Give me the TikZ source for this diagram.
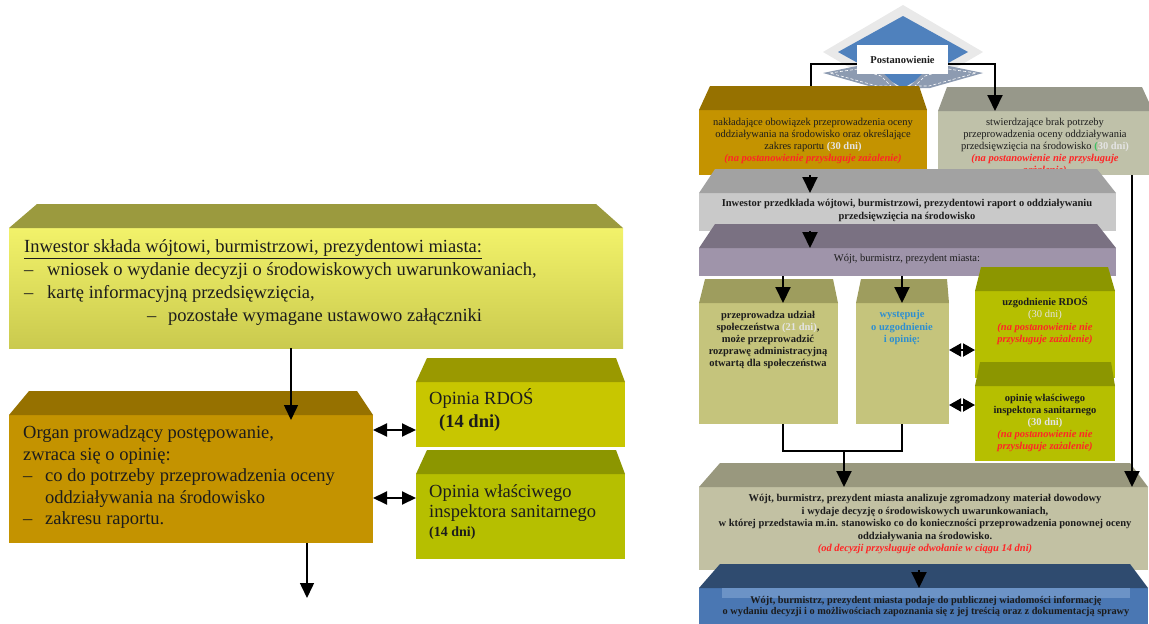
\documentclass[tikz,border=0pt]{standalone}
\usepackage{fontspec}
\setmainfont{Liberation Serif}
\usetikzlibrary{arrows.meta,calc}

\definecolor{ink}{HTML}{1C1C1C}
\definecolor{alert}{HTML}{FF2626}
\definecolor{pale}{HTML}{E4E4E4}
\definecolor{bluetext}{HTML}{2E8FD0}
\definecolor{greentext}{HTML}{3CC060}
\definecolor{rim}{HTML}{E9E9E9}
\definecolor{rhomb}{HTML}{4F81BD}
\definecolor{wing}{HTML}{8D9BB1}
\definecolor{yellow-front}{HTML}{F2F26A}
\definecolor{yellow-low}{HTML}{CACA4E}
\definecolor{yellow-top}{HTML}{9B9A3E}
\definecolor{gold-front}{HTML}{C49300}
\definecolor{gold-top}{HTML}{967100}
\definecolor{lime-front}{HTML}{C8C600}
\definecolor{lime-top}{HTML}{9A9900}
\definecolor{green-front}{HTML}{B6BF00}
\definecolor{green-top}{HTML}{8C9600}
\definecolor{sage-front}{HTML}{BFC1A9}
\definecolor{sage-top}{HTML}{97988A}
\definecolor{grey-front}{HTML}{C9C9C9}
\definecolor{grey-top}{HTML}{A2A2A2}
\definecolor{plum-front}{HTML}{9F94AA}
\definecolor{plum-top}{HTML}{7A7182}
\definecolor{khaki-front}{HTML}{C5C47C}
\definecolor{khaki-top}{HTML}{9E9D5E}
\definecolor{stone-front}{HTML}{C2C1A3}
\definecolor{stone-top}{HTML}{99987E}
\definecolor{navy-front}{HTML}{4A77B3}
\definecolor{navy-band}{HTML}{6C93C6}
\definecolor{navy-top}{HTML}{2F4B6F}

\tikzset{
    front-face/.style = {rectangle, inner sep=0pt, outer sep=0pt, anchor=north west},
    big-text/.style = {font=\fontsize{18.5}{21.5}\selectfont, align=left, inner sep=0pt, anchor=west, text=ink},
    note-text/.style = {font=\fontsize{10.5}{12}\selectfont, align=center, inner sep=0pt, text=ink},
    note-bold/.style = {note-text, font=\fontsize{10.5}{12}\selectfont\bfseries},
    label-box/.style = {fill=white, minimum width=91pt, minimum height=29pt, inner sep=0pt, font=\fontsize{10.5}{12}\selectfont\bfseries, text=ink},
    thin-arrow/.style = {line width=1.5pt, -{Triangle[width=14pt,length=15pt]}},
    thick-arrow/.style = {line width=2pt, -{Triangle[width=15pt,length=16pt]}},
    twin-arrow/.style = {line width=2pt, {Triangle[width=13pt,length=14pt]}-{Triangle[width=13pt,length=14pt]}},
    twin-thick/.style = {line width=2pt, {Triangle[width=13pt,length=12pt]}-{Triangle[width=13pt,length=12pt]}},
    link/.style = {line width=2pt},
}

% name, corner, width, height, front options, top colour, left inset, right inset
\newcommand{\prism}[8]{%
  \node[front-face, #5, minimum width=#3pt, minimum height=#4pt] (#1) at (#2) {};
  \fill[#6] ($(#1.north west)+(#7,-24)$) -- ($(#1.north east)+(-#8,-24)$)
    -- (#1.north east) -- (#1.north west) -- cycle;
  \coordinate (#1-top) at ($(#1.north)+(0,-24)$);}
\newcommand{\uwaga}[1]{{\color{alert}\bfseries\itshape #1}}

\begin{document}
\begin{tikzpicture}[x=1pt,y=-1pt]
\useasboundingbox (0,0) rectangle (1149,624);

% left scheme
\prism{a-inwestor}{9,228}{614}{120}{top color=yellow-front, bottom color=yellow-low}{yellow-top}{28}{27}
\node[big-text, font=\fontsize{18.5}{23}\selectfont] (a-text) at (24,282.5) {%
  \underline{Inwestor składa wójtowi, burmistrzowi, prezydentowi miasta:}\\
  \makebox[23pt][l]{–}wniosek o wydanie decyzji o środowiskowych uwarunkowaniach,\\
  \makebox[23pt][l]{–}kartę informacyjną przedsięwzięcia,\\
  \hspace*{123pt}\makebox[21pt][l]{–}pozostałe wymagane ustawowo załączniki};

\prism{b-organ}{9,415}{364}{128}{fill=gold-front}{gold-top}{20}{16}
\node[big-text] (b-text) at (23,477.5) {%
  Organ prowadzący postępowanie,\\
  zwraca się o opinię:\\
  \makebox[22pt][l]{–}co do potrzeby przeprowadzenia oceny\\
  \hspace*{22pt}oddziaływania na środowisko\\
  \makebox[22pt][l]{–}zakresu raportu.};

\prism{c-rdos}{416,382}{209}{65}{fill=lime-front}{lime-top}{11}{9}
\node[big-text, font=\fontsize{18.5}{23}\selectfont] (c-text) at (429,410.5) {%
  Opinia RDOŚ\\ \hspace*{10pt}\textbf{(14 dni)}};

\prism{d-sanepid}{416,474}{209}{85}{fill=green-front}{green-top}{11}{9}
\node[big-text, font=\fontsize{18.5}{20}\selectfont] (d-text) at (429,503) {%
  Opinia właściwego\\ inspektora sanitarnego};
\node[big-text, font=\fontsize{14}{16}\selectfont\bfseries] (d-days) at (429,533) {(14 dni)};

% right scheme
\fill[rim] (903,5) -- (983,52) -- (903,99) -- (823,52) -- cycle;
\fill[rhomb] (903,16) -- (968,52) -- (903,88) -- (838,52) -- cycle;
\fill[wing] (823,73) -- (857,66) -- (884,74) -- (898,88) -- (876,88) -- cycle;
\fill[wing] (983,73) -- (949,66) -- (922,74) -- (908,88) -- (930,88) -- cycle;
\draw[white, densely dashed, line width=0.6pt] (830,73) -- (858,69) -- (881,76) -- (891,86) -- (877,86) -- cycle;
\draw[white, densely dashed, line width=0.6pt] (976,73) -- (948,69) -- (925,76) -- (915,86) -- (929,86) -- cycle;
\node[label-box] (postanowienie) at (902.5,59.5) {Postanowienie};

\prism{e-nakladajace}{699,110}{228}{65}{fill=gold-front}{gold-top}{11}{8}
\node[note-text] (e-text) at (813,140.5) {%
  nakładające obowiązek przeprowadzenia oceny\\
  oddziaływania na środowisko oraz określające\\
  zakres raportu {\color{pale}\bfseries(30 dni)}\\
  \uwaga{(na postanowienie przysługuje zażalenie)}};

\prism{f-stwierdzajace}{938,111}{215}{64}{fill=sage-front}{sage-top}{9}{11}
\node[note-text] (f-text) at (1045,147) {%
  stwierdzające brak potrzeby\\
  przeprowadzenia oceny oddziaływania\\
  przedsięwzięcia na środowisko {\color{greentext}\bfseries(}{\color{pale}\bfseries30 dni)}\\
  \uwaga{(na postanowienie nie przysługuje}\\
  \uwaga{zażalenie)}};

\prism{g-raport}{699,193}{417}{38}{fill=grey-front}{grey-top}{16}{19}
\node[note-bold, font=\fontsize{10.5}{13}\selectfont\bfseries] (g-text) at (907,210.5) {%
  Inwestor przedkłada wójtowi, burmistrzowi, prezydentowi raport o oddziaływaniu\\
  przedsięwzięcia na środowisko};

\prism{h-wojt}{699,248}{417}{28}{fill=plum-front}{plum-top}{16}{19}
\node[note-text] (h-text) at (907,259) {Wójt, burmistrz, prezydent miasta:};

\prism{i-udzial}{699,303}{139}{121}{fill=khaki-front}{khaki-top}{6}{5}
\node[note-bold] (i-text) at (768,340) {%
  przeprowadza udział\\
  społeczeństwa {\color{pale}(21 dni)},\\
  może przeprowadzić\\
  rozprawę administracyjną\\
  otwartą dla społeczeństwa};

\prism{j-wystepuje}{856,303}{93}{121}{fill=khaki-front}{khaki-top}{5}{2}
\node[note-bold, text=bluetext, font=\fontsize{10.5}{12.5}\selectfont\bfseries] (j-text) at (902,327.5) {%
  występuje\\ o uzgodnienie\\ i opinię:};

\prism{k-uzgodnienie}{975,291}{140}{87}{fill=green-front}{green-top}{6}{7}
\node[note-bold, font=\fontsize{10.5}{12.3}\selectfont\bfseries] (k-text) at (1045,320.5) {%
  uzgodnienie RDOŚ\\
  {\mdseries\color{pale}(30 dni)}\\
  \uwaga{(na postanowienie nie}\\
  \uwaga{przysługuje zażalenie)}};

\prism{l-opinia}{975,386}{140}{75}{fill=green-front}{green-top}{5}{4}
\node[note-bold] (l-text) at (1045,423) {%
  opinię właściwego\\
  inspektora sanitarnego\\
  {\color{pale}(30 dni)}\\
  \uwaga{(na postanowienie nie}\\
  \uwaga{przysługuje zażalenie)}};

\prism{m-decyzja}{699,487}{449}{83}{fill=stone-front}{stone-top}{21}{18}
\node[note-bold, font=\fontsize{10.5}{12.5}\selectfont\bfseries] (m-text) at (925,524) {%
  Wójt, burmistrz, prezydent miasta analizuje zgromadzony materiał dowodowy\\
  i wydaje decyzję o środowiskowych uwarunkowaniach,\\
  w której przedstawia m.in. stanowisko co do konieczności przeprowadzenia ponownej oceny\\
  oddziaływania na środowisko.\\
  \uwaga{(od decyzji przysługuje odwołanie w ciągu 14 dni)}};

\prism{n-informacja}{699,588}{449}{40}{fill=navy-front}{navy-top}{21}{18}
\fill[navy-band] ($(n-informacja.north west)+(23,0)$) rectangle ($(n-informacja.north east)+(-18,10)$);
\node[note-bold, font=\fontsize{10.3}{11.5}\selectfont\bfseries] (n-text) at (926,606.5) {%
  Wójt, burmistrz, prezydent miasta podaje do publicznej wiadomości informację\\
  o wydaniu decyzji i o możliwościach zapoznania się z jej treścią oraz z dokumentacją sprawy};

% connectors, left
\coordinate (col-a) at (291,0);
\coordinate (col-b) at (307,0);
\coordinate (b-exit) at (307,598);
\coordinate (row-c) at (0,430);
\coordinate (row-d) at (0,498);
\draw[thin-arrow, shorten >=-5pt] (a-inwestor.south -| col-a) -- (b-organ.north -| col-a);
\draw[thin-arrow] (b-organ.south -| col-b) -- (b-exit);
\draw[twin-arrow] (b-organ.east |- row-c) -- (c-rdos.west |- row-c);
\draw[twin-arrow] (b-organ.east |- row-d) -- (d-sanepid.west |- row-d);

% connectors, right
\coordinate (bend-l) at (811,64);
\coordinate (bend-r) at (995,64);
\coordinate (col-r) at (810,0);
\coordinate (col-i) at (783,0);
\coordinate (col-j) at (902,0);
\coordinate (merge) at (844,451);
\coordinate (col-far) at (1132,0);
\coordinate (col-n) at (919,0);
\coordinate (row-k) at (0,350);
\coordinate (row-l) at (0,405);
\draw[link] (postanowienie.west |- bend-l) -- (bend-l) -- (bend-l |- e-nakladajace-top);
\draw[thick-arrow] (postanowienie.east |- bend-r) -- (bend-r) -- (bend-r |- f-stwierdzajace.north);
\draw[thick-arrow] (e-nakladajace.south -| col-r) -- (g-raport.north -| col-r);
\draw[thick-arrow] (g-raport.south -| col-r) -- (h-wojt.north -| col-r);
\draw[thick-arrow] (h-wojt.south -| col-i) -- (i-udzial.north -| col-i);
\draw[thick-arrow] (h-wojt.south -| col-j) -- (j-wystepuje.north -| col-j);
\draw[twin-thick] (j-wystepuje.east |- row-k) -- (k-uzgodnienie.west |- row-k);
\draw[twin-thick] (j-wystepuje.east |- row-l) -- (l-opinia.west |- row-l);
\draw[link] (i-udzial.south -| col-i) -- (col-i |- merge) -- (col-j |- merge) -- (j-wystepuje.south -| col-j);
\draw[thick-arrow] (merge) -- (merge |- m-decyzja.north);
\draw[thick-arrow] (f-stwierdzajace.south -| col-far) -- (col-far |- m-decyzja.north);
\draw[thick-arrow] (m-decyzja.south -| col-n) -- (n-informacja.north -| col-n);
\end{tikzpicture}
\end{document}
